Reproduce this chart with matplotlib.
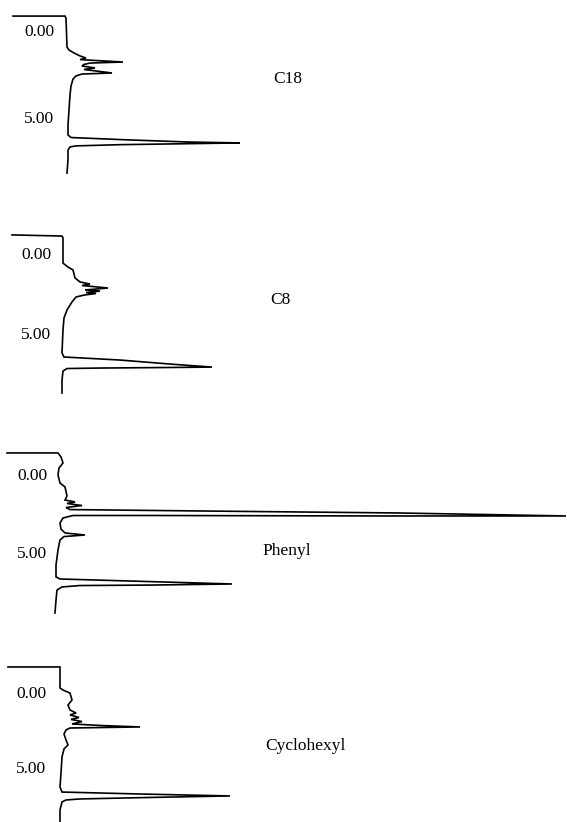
import matplotlib
matplotlib.use("Agg")
import matplotlib.pyplot as plt

plt.rcParams['font.family'] = ['Liberation Serif', 'DejaVu Serif']

# chromatogram traces, time in minutes (runs downward), detector response in arbitrary units
c18_time = [-0.80, -0.80, -0.69, 0.98, 1.15, 1.32, 1.49, 1.61, 1.70, 1.75, 1.84, 1.90, 1.98, 2.07,
            2.18, 2.27, 2.47, 2.53, 2.64, 2.82, 3.22, 3.74, 4.60, 5.46, 6.03, 6.18, 6.32, 6.44,
            6.49, 6.54, 6.59, 6.66, 6.72, 6.90, 7.47, 8.22]
c18_resp = [-54, -2, -1, 0, 2, 7, 13, 19, 13, 28, 56, 23, 17, 15,
            28, 17, 45, 15, 9, 6, 4, 3, 2, 1, 1, 4, 63, 123,
            173, 113, 53, 9, 3, 1, 1, 0]

c8_time = [-1.13, -1.06, -0.94, 0.63, 0.88, 1.06, 1.56, 1.81, 1.94, 2.03, 2.19, 2.31, 2.38, 2.47,
           2.53, 2.63, 2.75, 3.06, 3.56, 4.06, 4.81, 6.25, 6.50, 6.69, 6.94, 7.13, 7.16, 7.19,
           7.22, 7.38, 7.94, 8.75]
c8_resp = [-51, -1, 0, 0, 5, 10, 12, 17, 27, 19, 45, 22, 37, 23,
           33, 21, 13, 9, 4, 1, 0, -1, 1, 57, 107, 149, 97, 37,
           4, 0, -1, -1]

phenyl_time = [-1.35, -1.35, -1.09, -0.71, -0.38, 0.06, 0.58, 0.83, 1.41, 1.67, 1.79, 1.89, 2.02, 2.15,
               2.28, 2.37, 2.50, 2.69, 2.69, 2.66, 2.66, 2.82, 3.14, 3.53, 3.78, 3.91, 4.01, 4.23,
               4.87, 5.83, 6.60, 6.73, 6.86, 7.05, 7.12, 7.15, 7.24, 7.44, 8.08, 8.91]
phenyl_resp = [-50, 1, 4, 6, 2, 1, 3, 8, 10, 8, 18, 10, 25, 9,
               13, 143, 343, 509, 323, 93, 16, 6, 3, 4, 8, 28, 7, 3,
               1, -1, -1, 3, 73, 175, 93, 23, 5, 0, -1, -2]

cyclohexyl_time = [-1.67, -1.67, -0.27, -0.13, 0.07, 0.53, 0.87, 1.20, 1.40, 1.53, 1.70, 1.83, 1.97, 2.13,
                   2.23, 2.33, 2.37, 2.40, 2.53, 2.80, 3.20, 3.53, 3.80, 4.33, 5.40, 6.33, 6.67, 6.80,
                   6.93, 7.03, 7.13, 7.20, 7.33, 7.87, 8.67]
cyclohexyl_resp = [-53, -1, -1, 2, 9, 11, 7, 9, 15, 9, 18, 10, 21, 11,
                   39, 79, 39, 9, 5, 3, 5, 7, 3, 1, 0, -1, 1, 79,
                   169, 89, 19, 5, 1, -1, -1]

panel_names = ["C18", "C8", "Phenyl", "Cyclohexyl"]
tick_values = [0, 5]
tick_labels = ["0.00", "5.00"]

W, H = 567, 822
fig = plt.figure(figsize=(W / 100, H / 100), dpi=100)

# pixel layout of each panel: axis left, baseline x, top, bottom, y of t=0, px per minute, label x, label y
layout = [
    (57, 67, 10, 185, 30, 17.4, 273, 79),
    (54, 63, 228, 400, 253, 16.0, 270, 300),
    (50, 57, 445, 620, 474, 15.6, 262, 551),
    (49, 61, 660, 822, 692, 15.0, 265, 746),
]
traces = [(c18_time, c18_resp), (c8_time, c8_resp),
          (phenyl_time, phenyl_resp), (cyclohexyl_time, cyclohexyl_resp)]

for name, (t, r), (left, base, top, bot, y0, k, lx, ly) in zip(panel_names, traces, layout):
    ax = fig.add_axes([left / W, 1 - bot / H, (W - left) / W, (bot - top) / H])
    ax.plot(r, t, color="black", lw=1.2, clip_on=False, solid_joinstyle="miter")
    ax.set_xlim(left - base, W - base)
    ax.set_ylim((bot - y0) / k, (top - y0) / k)
    ax.set_yticks(tick_values)
    ax.set_yticklabels(tick_labels)
    ax.tick_params(axis="y", length=0, pad=2, labelsize=12.5)
    ax.set_xticks([])
    for sp in ax.spines.values():
        sp.set_visible(False)
    ax.patch.set_alpha(0)
    fig.text(lx / W, 1 - ly / H, name, ha="left", va="center", fontsize=12.5)

fig.savefig("out.png", dpi=100)
